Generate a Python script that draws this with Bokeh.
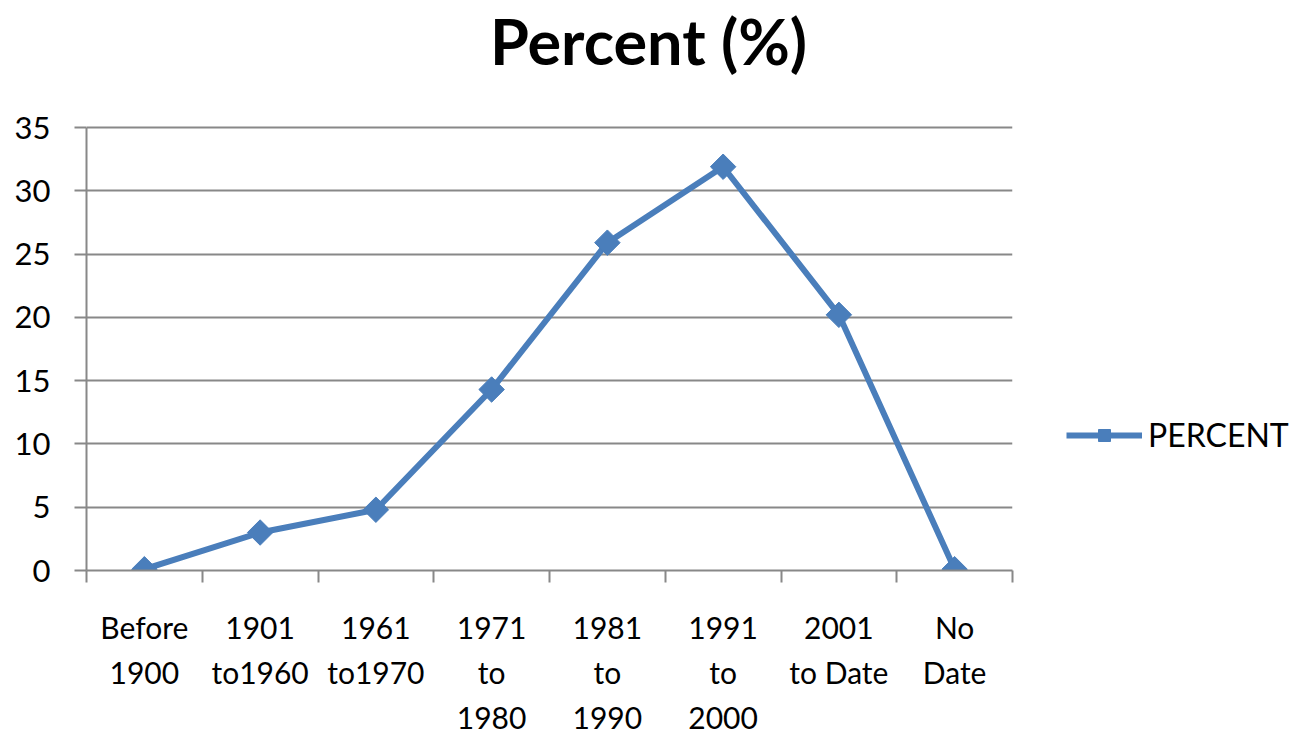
from bokeh.plotting import figure
from bokeh.models import FixedTicker, Range1d, Legend, LegendItem, Label
from bokeh.embed import file_html
from bokeh.resources import INLINE
import numpy as np

categories = ["Before\n1900", "1901\nto1960", "1961\nto1970", "1971\nto\n1980",
              "1981\nto\n1990", "1991\nto\n2000", "2001\nto Date", "No\nDate"]
percent = [0.1, 3.0, 4.8, 14.3, 25.9, 31.9, 20.2, 0.1]
y_ticks = [0, 5, 10, 15, 20, 25, 30, 35]
title_text = "Percent (%)"

FONT = "Lato"
BLUE = "#4a7ebb"
GRAY = "#888888"

xs = [i + 0.5 for i in range(len(categories))]

# frame extends to the top of the canvas so the title can sit inside it;
# the value axis itself is bounded to 0..35
PLOT_H = 443
TOP_SPACE = 127
y_max = 35
y_end = y_max * (PLOT_H + TOP_SPACE) / PLOT_H

p = figure(frame_width=926, frame_height=PLOT_H + TOP_SPACE, output_backend="svg",
           toolbar_location=None,
           x_range=Range1d(0, len(categories)), y_range=Range1d(0, y_end),
           min_border_left=86, min_border_right=276, min_border_top=0,
           min_border_bottom=166)
p.outline_line_color = None
p.background_fill_color = "white"
p.border_fill_color = "white"

title = Label(x=562, y=PLOT_H + TOP_SPACE - 40, x_units="screen", y_units="screen",
              text=title_text, text_font=FONT, text_font_size="63px",
              text_font_style="bold", text_color="black", text_align="center",
              text_baseline="alphabetic")
p.add_layout(title)

line = p.line(xs, percent, line_color=BLUE, line_width=6)
pts = p.scatter(xs, percent, marker="square", size=18, angle=np.pi / 4,
                fill_color=BLUE, line_color=BLUE)

# x axis
xa = p.xaxis[0]
xa.ticker = FixedTicker(ticks=xs, minor_ticks=list(range(len(categories) + 1)))
xa.major_label_overrides = {x: c for x, c in zip(xs, categories)}
xa.major_tick_line_color = None
xa.minor_tick_line_color = GRAY
xa.minor_tick_line_width = 2
xa.minor_tick_out = 12
xa.minor_tick_in = 0
xa.axis_line_color = GRAY
xa.axis_line_width = 2
xa.major_label_text_font = FONT
xa.major_label_text_font_size = "30px"
xa.major_label_text_color = "black"
xa.major_label_text_line_height = 1.26
xa.major_label_standoff = 26

ya = p.yaxis[0]
ya.ticker = FixedTicker(ticks=y_ticks)
ya.bounds = (0, y_max)
ya.minor_tick_line_color = None
ya.major_tick_line_color = GRAY
ya.major_tick_line_width = 2
ya.major_tick_out = 12
ya.major_tick_in = 0
ya.axis_line_color = GRAY
ya.axis_line_width = 2
ya.major_label_text_font = FONT
ya.major_label_text_font_size = "31px"
ya.major_label_text_color = "black"
ya.major_label_standoff = 24

p.xgrid.grid_line_color = None
p.ygrid.grid_line_color = GRAY
p.ygrid.grid_line_width = 2
p.ygrid.ticker = FixedTicker(ticks=y_ticks)

legend = Legend(items=[LegendItem(label="PERCENT", renderers=[line, pts])],
                location=(54, 116), glyph_width=76, glyph_height=30,
                label_text_font=FONT, label_text_font_size="32px",
                label_text_color="black", border_line_color=None,
                background_fill_alpha=0, padding=0, margin=0, label_standoff=6)
p.add_layout(legend, "right")

open("out.html", "w").write(file_html(p, INLINE))
